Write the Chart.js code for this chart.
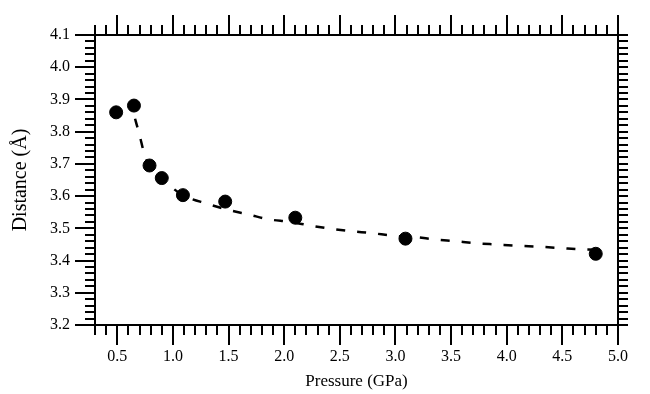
<!DOCTYPE html>
<html>
<head>
<meta charset="utf-8">
<script src="https://cdn.jsdelivr.net/npm/chart.js@4.4.1/dist/chart.umd.min.js"></script>
<style>
  html, body { margin: 0; padding: 0; background: #fff; }
</style>
</head>
<body>
<canvas id="chart" width="650" height="394"></canvas>
<script>
// measured points
const pressure = [0.49, 0.65, 0.79, 0.90, 1.09, 1.47, 2.10, 3.09, 4.80];
const distance = [3.860, 3.881, 3.695, 3.656, 3.603, 3.583, 3.533, 3.468, 3.421];

// dashed guide curve
const fitPressure = [0.66, 0.70, 0.74, 0.785, 0.90, 0.97, 1.09, 1.31, 1.50, 1.68, 1.86, 2.05,
  2.23, 2.41, 2.60, 2.79, 2.98, 3.17, 3.35, 3.54, 3.72, 3.91, 4.10, 4.29, 4.48, 4.66, 4.89];
const fitDistance = [3.840, 3.790, 3.735, 3.693, 3.656, 3.633, 3.603, 3.576, 3.557, 3.543, 3.528, 3.520,
  3.509, 3.499, 3.491, 3.485, 3.477, 3.473, 3.466, 3.460, 3.454, 3.450, 3.446, 3.443, 3.439, 3.435, 3.433];

// axis labels
const xTickLabels = ['0.5', '1.0', '1.5', '2.0', '2.5', '3.0', '3.5', '4.0', '4.5', '5.0'];
const yTickLabels = ['3.2', '3.3', '3.4', '3.5', '3.6', '3.7', '3.8', '3.9', '4.0', '4.1'];

const FONT = '"Liberation Serif", "Times New Roman", serif';

/**
 * Frame plus major/minor tick marks on all four sides.
 */
const frameTicks = {
  id: 'frameTicks',
  afterDraw(chart) {
    const { ctx, chartArea: a, scales: { x, y } } = chart;
    ctx.save();
    ctx.strokeStyle = '#000';
    ctx.lineWidth = 2;
    ctx.strokeRect(a.left, a.top, a.right - a.left, a.bottom - a.top);
    ctx.beginPath();
    // x: minor every 0.1, major every 0.5
    for (let i = 3; i <= 50; i++) {
      const px = Math.round(x.getPixelForValue(i / 10));
      const len = i % 5 === 0 ? 20 : 10;
      ctx.moveTo(px, a.bottom);
      ctx.lineTo(px, a.bottom + len);
      ctx.moveTo(px, a.top);
      ctx.lineTo(px, a.top - len);
    }
    // y: minor every 0.02, major every 0.1
    for (let i = 160; i <= 205; i++) {
      const py = Math.round(y.getPixelForValue(i * 0.02));
      const len = i % 5 === 0 ? 20 : 10;
      ctx.moveTo(a.left, py);
      ctx.lineTo(a.left - len, py);
      ctx.moveTo(a.right, py);
      ctx.lineTo(a.right + 10, py);
    }
    ctx.stroke();
    ctx.restore();
  }
};

new Chart(document.getElementById('chart'), {
  type: 'scatter',
  data: {
    datasets: [
      {
        label: 'Distance',
        data: pressure.map((p, i) => ({ x: p, y: distance[i] })),
        backgroundColor: '#000',
        borderColor: '#000',
        pointRadius: 6.5,
        pointHoverRadius: 6.5,
        order: 0
      },
      {
        label: 'Fit',
        type: 'line',
        data: fitPressure.map((p, i) => ({ x: p, y: fitDistance[i] })),
        borderColor: '#000',
        borderWidth: 2.5,
        borderDash: [9, 12],
        pointRadius: 0,
        fill: false,
        cubicInterpolationMode: 'monotone',
        order: 1
      }
    ]
  },
  options: {
    responsive: false,
    animation: false,
    layout: { padding: { top: 35, right: 12, left: 0, bottom: 0 } },
    plugins: {
      legend: { display: false },
      tooltip: { enabled: false }
    },
    scales: {
      x: {
        type: 'linear',
        min: 0.3,
        max: 5.0,
        afterBuildTicks: s => { s.ticks = xTickLabels.map(t => ({ value: parseFloat(t) })); },
        afterFit: s => { s.height = 69; },
        grid: { display: false, drawTicks: false },
        border: { display: false },
        ticks: {
          padding: 22,
          color: '#000',
          maxRotation: 0,
          autoSkip: false,
          font: { family: FONT, size: 16 },
          callback: (v, i) => xTickLabels[i]
        },
        title: {
          display: true,
          text: 'Pressure (GPa)',
          color: '#000',
          font: { family: FONT, size: 17 },
          padding: { top: 0, bottom: 2 }
        }
      },
      y: {
        type: 'linear',
        min: 3.2,
        max: 4.1,
        afterBuildTicks: s => { s.ticks = yTickLabels.map(t => ({ value: parseFloat(t) })); },
        afterFit: s => { s.width = 95; },
        grid: { display: false, drawTicks: false },
        border: { display: false },
        ticks: {
          padding: 25,
          color: '#000',
          autoSkip: false,
          font: { family: FONT, size: 16 },
          callback: (v, i) => yTickLabels[i]
        },
        title: {
          display: true,
          text: 'Distance (Å)',
          color: '#000',
          font: { family: FONT, size: 20 },
          padding: { top: 9, bottom: 0 }
        }
      }
    }
  },
  plugins: [frameTicks]
});
</script>
</body>
</html>
